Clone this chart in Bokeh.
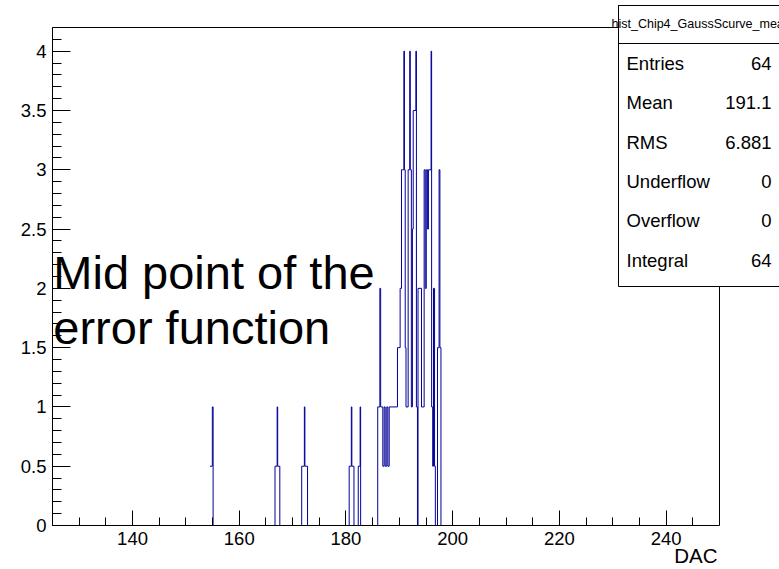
from bokeh.plotting import figure
from bokeh.models import FixedTicker, Label, BoxAnnotation, Title
from bokeh.embed import file_html
from bokeh.resources import INLINE

# Histogram outline: DAC value where the bin content changes, and the content after it
edges = [
    154.5, 154.95, 155.1,
    166.7, 167.1, 167.2, 167.6,
    171.7, 172.2, 172.3, 172.8,
    180.6, 181.0, 181.1, 181.5,
    182.3, 182.65, 182.75,
    185.95, 186.35, 186.5, 186.9, 187.15, 187.35, 187.65, 187.85, 188.1,
    189.65, 190.15, 190.4, 190.85, 190.95, 191.1, 191.25,
    191.65, 191.95, 192.05, 192.25,
    192.45, 192.6, 193.1, 193.2, 193.4,
    193.5, 194.15, 194.65, 194.85, 195.05, 195.3, 195.45,
    195.95, 196.05, 196.25, 196.4, 196.6, 196.75,
    197.15, 197.45, 197.6, 197.8,
]
levels = [
    0.5, 1, 0,
    0.5, 1, 0.5, 0,
    0.5, 1, 0.5, 0,
    0.5, 1, 0.5, 0,
    0.5, 1, 0,
    1, 2, 1, 0.5, 1, 0.5, 1, 0.5, 1,
    1.5, 2, 3, 4, 3, 1.5, 1,
    3, 4, 3, 1,
    2.5, 3.5, 4, 1, 0,
    2, 1, 3, 2, 3, 2.5, 3,
    4, 1, 0.5, 2, 0.5, 0,
    1.5, 3, 1.5, 0,
]

x_lo, x_hi = 125, 250
y_lo, y_hi = 0, 4.2
x_major = [140, 160, 180, 200, 220, 240]
x_minor = [125, 130, 135, 140, 145, 150, 155, 160, 165, 170, 175, 180, 185, 190,
           195, 200, 205, 210, 215, 220, 225, 230, 235, 240, 245, 250]
y_major = [0, 0.5, 1, 1.5, 2, 2.5, 3, 3.5, 4]
y_minor = [i / 10 for i in range(0, 43)]

hist_name = "hist_Chip4_GaussScurve_mean"
stat_names = ["Entries", "Mean", "RMS", "Underflow", "Overflow", "Integral"]
stat_values = ["64", "191.1", "6.881", "0", "0", "64"]

annotation_lines = ["Mid point of the", "error function"]
x_title = "DAC"

FONT = "Liberation Sans"

W, H = 779, 569
# pixel frame of the histogram pad
FL, FR, FT, FB = 52, 719, 27, 525
# the bokeh frame is extended to the right/top so the stats box is not clipped
x_end = x_lo + (W - FL) * (x_hi - x_lo) / (FR - FL)
y_end = y_lo + (FB - 0) * (y_hi - y_lo) / (FB - FT)

p = figure(width=W, height=H, x_range=(x_lo, x_end), y_range=(y_lo, y_end),
           output_backend="svg", toolbar_location=None,
           min_border_left=FL, min_border_right=0,
           min_border_top=0, min_border_bottom=H - FB)
p.background_fill_color = "white"
p.border_fill_color = "white"
p.outline_line_color = None
p.xgrid.visible = False
p.ygrid.visible = False

p.xaxis.ticker = FixedTicker(ticks=x_major, minor_ticks=x_minor)
p.yaxis.ticker = FixedTicker(ticks=y_major, minor_ticks=y_minor)
p.xaxis.bounds = (x_lo, x_hi)
p.yaxis.bounds = (y_lo, y_hi)
p.yaxis.major_label_overrides = {0: "0", 1: "1", 2: "2", 3: "3", 4: "4"}

for ax, mj, mn in ((p.xaxis, 15, 8), (p.yaxis, 18, 9)):
    ax.major_tick_in = mj
    ax.major_tick_out = 0
    ax.minor_tick_in = mn
    ax.minor_tick_out = 0
    ax.axis_line_color = "black"
    ax.major_tick_line_color = "black"
    ax.minor_tick_line_color = "black"
    ax.major_label_text_font = FONT
    ax.major_label_text_font_size = "18.5px"
    ax.major_label_text_color = "black"
p.xaxis.major_label_standoff = 6
p.yaxis.major_label_standoff = 6

# x axis title at the right end of the axis
p.add_layout(Title(text=x_title, align="right", offset=(W - FR) + 2, standoff=-11,
                   text_font=FONT, text_font_size="20.5px", text_font_style="normal",
                   text_color="black"), "below")

# frame top and right edges
p.line(x=[x_lo, x_hi, x_hi], y=[y_hi, y_hi, y_lo], line_color="black", line_width=1)

p.step(x=edges, y=levels, mode="after", line_color="#000099", line_width=1)

# annotation text
p.add_layout(Label(x=125.15, y=2.135, text=annotation_lines[0], text_font=FONT,
                   text_font_size="47px", text_color="black", text_baseline="alphabetic"))
p.add_layout(Label(x=125.15, y=1.67, text=annotation_lines[1], text_font=FONT,
                   text_font_size="47px", text_color="black", text_baseline="alphabetic"))

# stats box
p.add_layout(BoxAnnotation(left=618, right=795, top=5, bottom=286,
                           left_units="canvas", right_units="canvas",
                           top_units="canvas", bottom_units="canvas",
                           fill_color="white", fill_alpha=1.0,
                           line_color="black", line_width=1, line_alpha=1.0))
p.add_layout(BoxAnnotation(left=618, right=795, top=5, bottom=43,
                           left_units="canvas", right_units="canvas",
                           top_units="canvas", bottom_units="canvas",
                           fill_alpha=0.0,
                           line_color="black", line_width=1, line_alpha=1.0))
p.add_layout(Label(x=611, y=23, x_units="canvas", y_units="canvas", text=hist_name,
                   text_font=FONT, text_font_size="12.5px", text_baseline="alphabetic",
                   text_color="black"))
row_y = [62.5, 102, 141.5, 180.5, 220, 259.5]
for name, val, yy in zip(stat_names, stat_values, row_y):
    p.add_layout(Label(x=626, y=yy, x_units="canvas", y_units="canvas", text=name,
                       text_font=FONT, text_font_size="18.5px", text_baseline="alphabetic",
                       text_color="black"))
    p.add_layout(Label(x=771, y=yy, x_units="canvas", y_units="canvas", text=val,
                       text_font=FONT, text_font_size="18.5px", text_baseline="alphabetic",
                       text_align="right", text_color="black"))

open("out.html", "w").write(file_html(p, INLINE))
